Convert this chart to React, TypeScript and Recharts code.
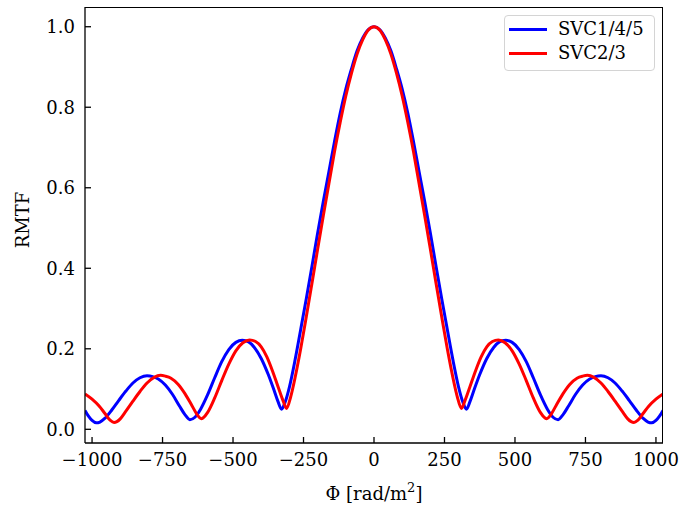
import React from "react";
import { LineChart, Line, XAxis, YAxis } from "recharts";

// ---- data ----
const bluePhi = [
  -1025, -1012, -1000, -985, -972, -955, -930, -905, -880, -855, -830, -805, -785, -765, -740, -715, -690, -670, -653, -635, -615, -590, -565, -540, -515, -490, -467, -445, -425, -400, -375, -355, -340, -328, -315, -300, -280, -260, -240, -220, -200, -180, -160, -140, -120, -100, -80, -60, -40, -20,
  0,
  20, 40, 60, 80, 100, 120, 140, 160, 180, 200, 220, 240, 260, 280, 300, 315, 328, 340, 355, 375, 400, 425, 445, 467, 490, 515, 540, 565, 590, 615, 635, 653, 670, 690, 715, 740, 765, 785, 805, 830, 855, 880, 905, 930, 955, 972, 985, 1000, 1012, 1025,
];
const blueVal = [
  0.047, 0.032, 0.022, 0.016, 0.018, 0.027, 0.048, 0.072, 0.095, 0.115, 0.128, 0.133, 0.131, 0.125, 0.11, 0.087, 0.058, 0.036, 0.024, 0.03, 0.05, 0.086, 0.128, 0.168, 0.198, 0.216, 0.221, 0.217, 0.204, 0.176, 0.136, 0.098, 0.068, 0.05, 0.068, 0.105, 0.172, 0.248, 0.325, 0.405, 0.487, 0.565, 0.64, 0.715, 0.785, 0.845, 0.895, 0.94, 0.972, 0.993,
  1.0,
  0.993, 0.972, 0.94, 0.895, 0.845, 0.785, 0.715, 0.64, 0.565, 0.487, 0.405, 0.325, 0.248, 0.172, 0.105, 0.068, 0.05, 0.068, 0.098, 0.136, 0.176, 0.204, 0.217, 0.221, 0.216, 0.198, 0.168, 0.128, 0.086, 0.05, 0.03, 0.024, 0.036, 0.058, 0.087, 0.11, 0.125, 0.131, 0.133, 0.128, 0.115, 0.095, 0.072, 0.048, 0.027, 0.018, 0.016, 0.022, 0.032, 0.047,
];

const redPhi = [
  -1025, -1000, -975, -955, -935, -922, -912, -900, -880, -855, -830, -805, -780, -757, -740, -720, -695, -670, -645, -625, -613, -605, -590, -565, -540, -515, -490, -465, -441, -420, -400, -380, -360, -340, -322, -310, -295, -280, -260, -240, -220, -200, -180, -160, -140, -120, -100, -80, -60, -40, -20,
  0,
  20, 40, 60, 80, 100, 120, 140, 160, 180, 200, 220, 240, 260, 280, 295, 310, 322, 340, 360, 380, 400, 420, 441, 465, 490, 515, 540, 565, 590, 605, 613, 625, 645, 670, 695, 720, 740, 757, 780, 805, 830, 855, 880, 900, 912, 922, 935, 955, 975, 1000, 1025,
];
const redVal = [
  0.088, 0.075, 0.058, 0.04, 0.022, 0.017, 0.019, 0.026, 0.045, 0.07, 0.094, 0.115, 0.129, 0.134, 0.132, 0.127, 0.112, 0.088, 0.058, 0.034, 0.026, 0.029, 0.042, 0.078, 0.121, 0.162, 0.195, 0.215, 0.222, 0.218, 0.205, 0.18, 0.145, 0.105, 0.07, 0.052, 0.082, 0.128, 0.2, 0.28, 0.363, 0.447, 0.53, 0.61, 0.69, 0.762, 0.828, 0.884, 0.932, 0.968, 0.992,
  1.0,
  0.992, 0.968, 0.932, 0.884, 0.828, 0.762, 0.69, 0.61, 0.53, 0.447, 0.363, 0.28, 0.2, 0.128, 0.082, 0.052, 0.07, 0.105, 0.145, 0.18, 0.205, 0.218, 0.222, 0.215, 0.195, 0.162, 0.121, 0.078, 0.042, 0.029, 0.026, 0.034, 0.058, 0.088, 0.112, 0.127, 0.132, 0.134, 0.129, 0.115, 0.094, 0.07, 0.045, 0.026, 0.019, 0.017, 0.022, 0.04, 0.058, 0.075, 0.088,
];

const seriesNames = ["SVC1/4/5", "SVC2/3"];
const seriesColors = ["#0000ff", "#ff0000"];
const xTicks = [-1000, -750, -500, -250, 0, 250, 500, 750, 1000];
const yTicks = [0, 0.2, 0.4, 0.6, 0.8, 1.0];

const blueData = bluePhi.map((phi, i) => ({ phi, v: blueVal[i] }));
const redData = redPhi.map((phi, i) => ({ phi, v: redVal[i] }));

const FONT = "'DejaVu Serif', 'Liberation Serif', serif";

const fmtX = (t: number) => (t < 0 ? "\u2212" + Math.abs(t) : String(t));
const fmtY = (t: number) => t.toFixed(1);

const PLOT = { left: 85, top: 7, right: 663, bottom: 443 };

const LegendBox = () => (
  <div
    style={{
      position: "absolute",
      left: 504,
      top: 15,
      width: 151,
      height: 56,
      boxSizing: "border-box",
      border: "1.5px solid #d4d4d4",
      borderRadius: 4,
      background: "#fff",
      fontFamily: FONT,
      fontSize: 18,
      color: "#000",
      paddingTop: 1,
      paddingLeft: 4,
    }}
  >
    {seriesNames.map((n, i) => (
      <div key={n} style={{ display: "flex", alignItems: "center", height: 24 }}>
        <span
          style={{
            display: "inline-block",
            width: 38,
            height: 3,
            background: seriesColors[i],
            marginRight: 11,
          }}
        />
        <span style={{ lineHeight: "24px", fontFamily: FONT }}>{n}</span>
      </div>
    ))}
  </div>
);

export default function App() {
  return (
    <div style={{ position: "absolute", left: 0, top: 0, width: 697, height: 511, background: "#fff" }}>
      <LineChart
        width={697}
        height={511}
        margin={{ top: PLOT.top, right: 697 - PLOT.right, bottom: 0, left: 0 }}
      >
        <XAxis
          type="number"
          dataKey="phi"
          domain={[-1025, 1025]}
          ticks={xTicks}
          allowDataOverflow
          tickFormatter={fmtX}
          height={511 - PLOT.bottom}
          tickSize={-6}
          tickMargin={16}
          stroke="#000"
          tick={{ fill: "#000", fontFamily: FONT, fontSize: 18 }}
          axisLine={{ stroke: "#000", strokeWidth: 1.3 }}
          tickLine={{ stroke: "#000", strokeWidth: 1.3 }}
          label={{
            content: () => (
              <text x={374} y={500} textAnchor="middle" fontFamily={FONT} fontSize={18} fill="#000">
                Φ [rad/m<tspan dy={-8} fontSize={13}>2</tspan>
                <tspan dy={8}>]</tspan>
              </text>
            ),
          }}
        />
        <YAxis
          type="number"
          domain={[-0.034, 1.049]}
          ticks={yTicks}
          allowDataOverflow
          tickFormatter={fmtY}
          width={PLOT.left}
          tickSize={-6}
          tickMargin={16}
          stroke="#000"
          tick={{ fill: "#000", fontFamily: FONT, fontSize: 18 }}
          axisLine={{ stroke: "#000", strokeWidth: 1.3 }}
          tickLine={{ stroke: "#000", strokeWidth: 1.3 }}
          label={{
            content: () => (
              <text
                x={24}
                y={220}
                textAnchor="middle"
                dominantBaseline="middle"
                fontFamily={FONT}
                fontSize={18}
                fill="#000"
                transform="rotate(-90, 24, 220)"
              >
                RMTF
              </text>
            ),
          }}
        />
        <Line
          data={blueData}
          dataKey="v"
          name={seriesNames[0]}
          type="monotone"
          stroke={seriesColors[0]}
          strokeWidth={3}
          dot={false}
          isAnimationActive={false}
        />
        <Line
          data={redData}
          dataKey="v"
          name={seriesNames[1]}
          type="monotone"
          stroke={seriesColors[1]}
          strokeWidth={3}
          dot={false}
          isAnimationActive={false}
        />
      </LineChart>
      {/* axes frame (top and right spines) */}
      <div
        style={{
          position: "absolute",
          left: PLOT.left,
          top: PLOT.top,
          width: PLOT.right - PLOT.left,
          height: PLOT.bottom - PLOT.top,
          boxSizing: "border-box",
          borderTop: "1.3px solid #000",
          borderRight: "1.3px solid #000",
          pointerEvents: "none",
        }}
      />
      <LegendBox />
    </div>
  );
}
